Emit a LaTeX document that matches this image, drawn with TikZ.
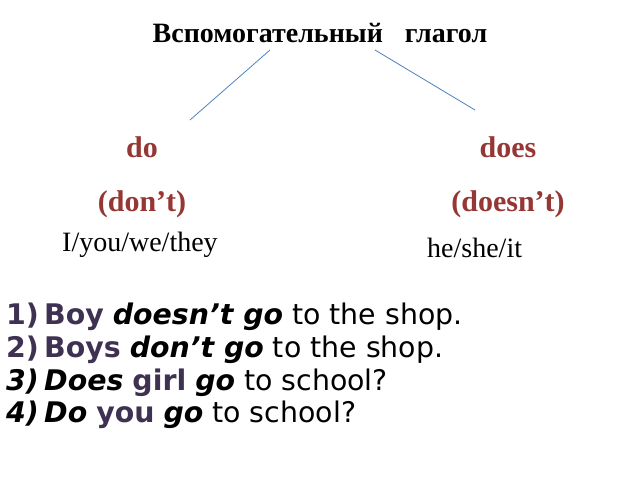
\documentclass[tikz,border=0pt]{standalone}
\usepackage{fontspec}
\setmainfont{Liberation Serif}
\newfontfamily\dejavu{DejaVu Sans}
\definecolor{verbred}{RGB}{149,55,53}
\definecolor{listpurple}{RGB}{63,49,81}
\definecolor{linkblue}{RGB}{79,129,189}
\begin{document}
\begin{tikzpicture}[x=1pt,y=-1pt,
  title/.style={font=\fontsize{28}{32}\selectfont\bfseries, anchor=base},
  verb/.style={font=\fontsize{30}{34}\selectfont\bfseries, text=verbred, anchor=base, inner sep=0pt},
  pron/.style={font=\fontsize{28}{32}\selectfont, anchor=base west, inner sep=0pt},
  num/.style={font=\dejavu\fontsize{28.4}{32}\selectfont\bfseries, anchor=base west, inner sep=0pt},
  item/.style={font=\dejavu\fontsize{28.4}{32}\selectfont, anchor=base west, inner sep=0pt},
  link/.style={draw=linkblue, line width=0.8pt}]
\useasboundingbox (0,0) rectangle (640,480);
\node[title] (t) at (320,42) {Вспомогательный\hspace{22pt}глагол};
\coordinate (l1) at (270,50);
\coordinate (l2) at (190,120);
\coordinate (r1) at (375,50);
\coordinate (r2) at (475,110);
\draw[link] (l1) -- (l2);
\draw[link] (r1) -- (r2);
\node[verb] (do) at (142,157) {do};
\node[verb] (does) at (508,157) {does};
\node[verb] (dont) at (142,211) {(don’t)};
\node[verb] (doesnt) at (508,211) {(doesn’t)};
\node[pron] (p1) at (62,251) {I/you/we/they};
\node[pron] (p2) at (427,257) {he/she/it};
\node[num, text=listpurple] (n1) at (6,324) {1)};
\node[item] (i1) at (44,324) {\textcolor{listpurple}{\bfseries Boy} \textbf{\itshape doesn’t go} to the shop.};
\node[num, text=listpurple] (n2) at (6,357) {2)};
\node[item] (i2) at (44,357) {\textcolor{listpurple}{\bfseries Boys} \textbf{\itshape don’t go} to the shop.};
\node[num, font=\dejavu\fontsize{28.4}{32}\selectfont\bfseries\itshape] (n3) at (6,390) {3)};
\node[item] (i3) at (44,390) {\textbf{\itshape Does} \textcolor{listpurple}{\bfseries girl} \textbf{\itshape go} to school?};
\node[num, font=\dejavu\fontsize{28.4}{32}\selectfont\bfseries\itshape] (n4) at (6,422) {4)};
\node[item] (i4) at (44,422) {\textbf{\itshape Do} \textcolor{listpurple}{\bfseries you} \textbf{\itshape go} to school?};
\end{tikzpicture}
\end{document}
